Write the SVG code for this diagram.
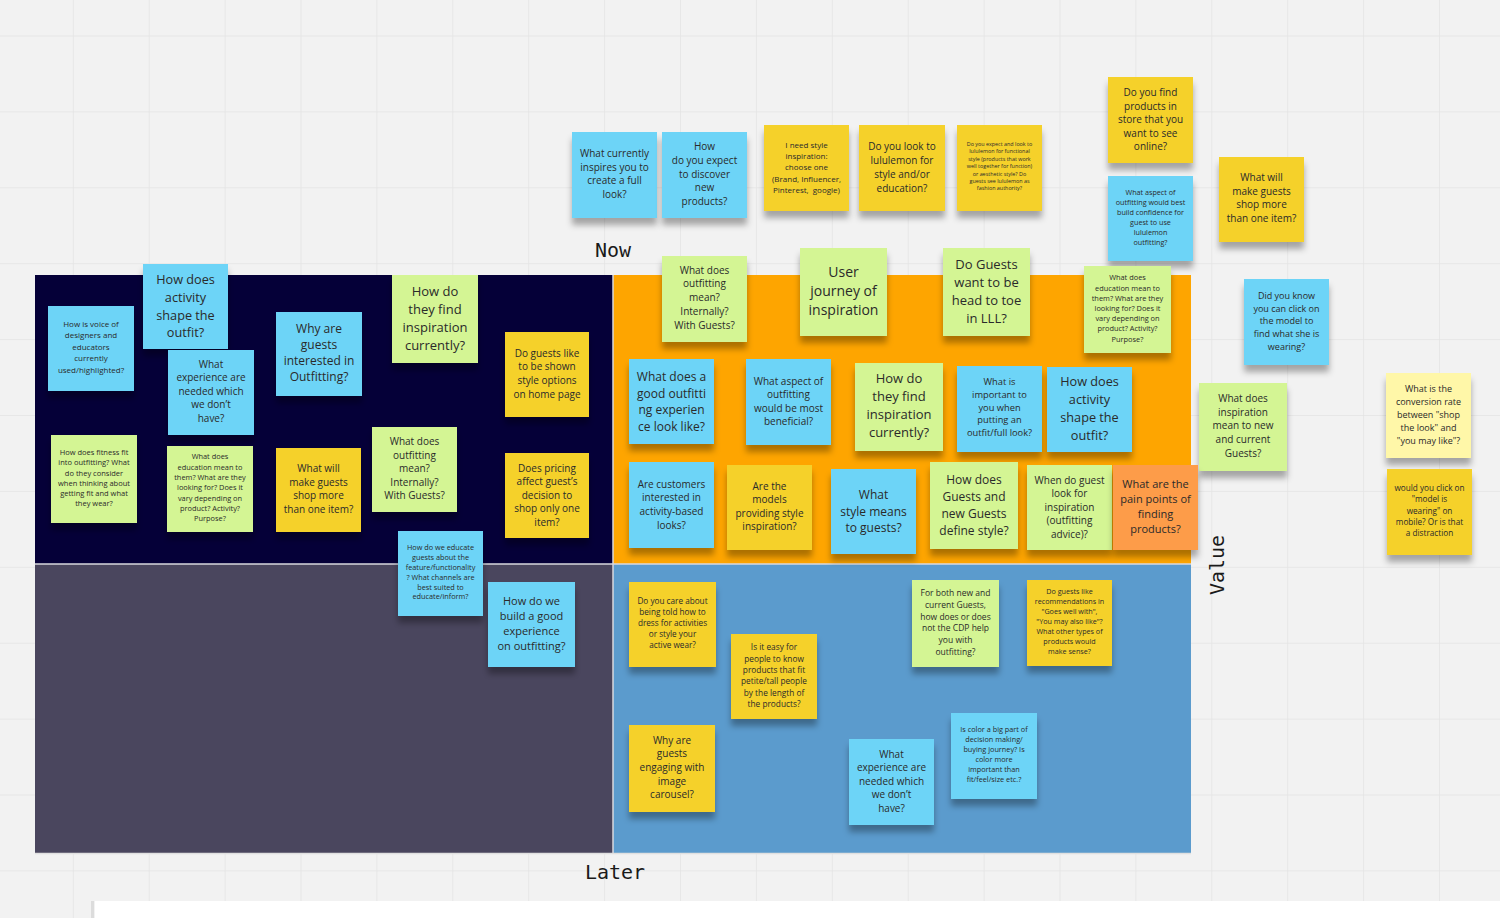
<svg xmlns="http://www.w3.org/2000/svg" width="1500" height="918" viewBox="0 0 1500 918">
<defs>
<pattern id="grid" x="72.8" y="35.5" width="75.9" height="75.9" patternUnits="userSpaceOnUse">
<path d="M0 0H75.9M0 0V75.9" fill="none" stroke="#e4e4e4" stroke-width="1.5"/>
</pattern>
<filter id="sh" x="-20%" y="-20%" width="140%" height="150%">
<feDropShadow dx="0" dy="7" stdDeviation="3" flood-color="#000" flood-opacity="0.32"/>
</filter>
</defs>
<style>
.note rect{filter:url(#sh)}
.b{fill:#6dd4f7}
.y{fill:#f5d12b}
.g{fill:#d4f594}
.o{fill:#fd9c4a}
.ly{fill:#fff7a8}
text.t{font-family:"Open Sans","Liberation Sans",sans-serif;fill:#2a2a2a;text-anchor:middle}
.lbl{font-family:"DejaVu Sans Mono","Liberation Mono",monospace;font-size:20px;fill:#1a1a1a;text-anchor:middle}
</style>
<rect width="1500" height="918" fill="#f2f2f2"/>
<rect width="1500" height="918" fill="url(#grid)"/>
<rect x="95" y="901" width="1405" height="17" fill="#ffffff"/>
<rect x="91" y="901" width="3" height="17" fill="#dcdcdc"/>

<g id="matrix">
<rect x="35" y="275" width="578" height="289" fill="#050038"/>
<rect x="613" y="275" width="578" height="289" fill="#fea500"/>
<rect x="35" y="564" width="578" height="289" fill="#4a465e"/>
<rect x="613" y="564" width="578" height="289" fill="#5b9bcd"/>
</g>
<g id="axes" stroke="#d8d8de" stroke-width="1.5" fill="none">
<path d="M35 564H1191"/>
<path d="M613 275V853"/>
<path d="M35 853.5H1191" stroke="#e0e0e0"/>
</g>
<text class="lbl" x="613" y="257">Now</text>
<text class="lbl" x="615" y="879">Later</text>
<text class="lbl" transform="translate(1224 565) rotate(-90)">Value</text>

<g id="n1" class="note"><rect class="b" x="572" y="132" width="85" height="86"/><text class="t" x="614.5" y="156.8" font-size="10"><tspan x="614.5" dy="0">What currently</tspan><tspan x="614.5" dy="13.7">inspires you to</tspan><tspan x="614.5" dy="13.7">create a full</tspan><tspan x="614.5" dy="13.7">look?</tspan></text></g>
<g id="n2" class="note"><rect class="b" x="662" y="132" width="85" height="86"/><text class="t" x="704.5" y="150.2" font-size="10"><tspan x="704.5" dy="0">How</tspan><tspan x="704.5" dy="13.7">do you expect</tspan><tspan x="704.5" dy="13.7">to discover</tspan><tspan x="704.5" dy="13.7">new</tspan><tspan x="704.5" dy="13.7">products?</tspan></text></g>
<g id="n3" class="note"><rect class="y" x="764" y="125" width="85" height="86"/><text class="t" x="806.5" y="147.8" font-size="8"><tspan x="806.5" dy="0">I need style</tspan><tspan x="806.5" dy="11.25">inspiration:</tspan><tspan x="806.5" dy="11.25">choose one</tspan><tspan x="806.5" dy="11.25">(Brand, Influencer,</tspan><tspan x="806.5" dy="11.25">Pinterest,&#160; google)</tspan></text></g>
<g id="n4" class="note"><rect class="y" x="859" y="125" width="86" height="86"/><text class="t" x="902" y="150.2" font-size="10"><tspan x="902" dy="0">Do you look to</tspan><tspan x="902" dy="13.9">lululemon for</tspan><tspan x="902" dy="13.9">style and/or</tspan><tspan x="902" dy="13.9">education?</tspan></text></g>
<g id="n5" class="note"><rect class="y" x="957" y="125" width="85" height="86"/><text class="t" x="999.5" y="145.9" font-size="5.4"><tspan x="999.5" dy="0">Do you expect and look to</tspan><tspan x="999.5" dy="7.4">lululemon for functional</tspan><tspan x="999.5" dy="7.4">style (products that work</tspan><tspan x="999.5" dy="7.4">well together for function)</tspan><tspan x="999.5" dy="7.4">or aesthetic style? Do</tspan><tspan x="999.5" dy="7.4">guests see lululemon as</tspan><tspan x="999.5" dy="7.4">fashion authority?</tspan></text></g>
<g id="n6" class="note"><rect class="y" x="1108" y="77" width="85" height="86"/><text class="t" x="1150.5" y="96.2" font-size="10"><tspan x="1150.5" dy="0">Do you find</tspan><tspan x="1150.5" dy="13.5">products in</tspan><tspan x="1150.5" dy="13.5">store that you</tspan><tspan x="1150.5" dy="13.5">want to see</tspan><tspan x="1150.5" dy="13.5">online?</tspan></text></g>
<g id="n7" class="note"><rect class="b" x="1108" y="176" width="85" height="85"/><text class="t" x="1150.5" y="195.2" font-size="7.2"><tspan x="1150.5" dy="0">What aspect of</tspan><tspan x="1150.5" dy="10">outfitting would best</tspan><tspan x="1150.5" dy="10">build confidence for</tspan><tspan x="1150.5" dy="10">guest to use</tspan><tspan x="1150.5" dy="10">lululemon</tspan><tspan x="1150.5" dy="10">outfitting?</tspan></text></g>
<g id="n8" class="note"><rect class="y" x="1219" y="157" width="85" height="85"/><text class="t" x="1261.5" y="181.2" font-size="10"><tspan x="1261.5" dy="0">What will</tspan><tspan x="1261.5" dy="13.6">make guests</tspan><tspan x="1261.5" dy="13.6">shop more</tspan><tspan x="1261.5" dy="13.6">than one item?</tspan></text></g>
<g id="n9" class="note"><rect class="b" x="1244" y="279" width="85" height="86"/><text class="t" x="1286.5" y="298.8" font-size="9"><tspan x="1286.5" dy="0">Did you know</tspan><tspan x="1286.5" dy="12.7">you can click on</tspan><tspan x="1286.5" dy="12.7">the model to</tspan><tspan x="1286.5" dy="12.7">find what she is</tspan><tspan x="1286.5" dy="12.7">wearing?</tspan></text></g>
<g id="n10" class="note"><rect class="g" x="1199" y="383" width="88" height="88"/><text class="t" x="1243" y="401.8" font-size="10"><tspan x="1243" dy="0">What does</tspan><tspan x="1243" dy="13.7">inspiration</tspan><tspan x="1243" dy="13.7">mean to new</tspan><tspan x="1243" dy="13.7">and current</tspan><tspan x="1243" dy="13.7">Guests?</tspan></text></g>
<g id="n11" class="note"><rect class="ly" x="1386" y="373" width="85" height="85"/><text class="t" x="1428.5" y="392.2" font-size="9"><tspan x="1428.5" dy="0">What is the</tspan><tspan x="1428.5" dy="12.9">conversion rate</tspan><tspan x="1428.5" dy="12.9">between "shop</tspan><tspan x="1428.5" dy="12.9">the look" and</tspan><tspan x="1428.5" dy="12.9">"you may like"?</tspan></text></g>
<g id="n12" class="note"><rect class="y" x="1387" y="469" width="85" height="86"/><text class="t" x="1429.5" y="491.2" font-size="8.2"><tspan x="1429.5" dy="0">would you click on</tspan><tspan x="1429.5" dy="11.25">"model is</tspan><tspan x="1429.5" dy="11.25">wearing" on</tspan><tspan x="1429.5" dy="11.25">mobile? Or is that</tspan><tspan x="1429.5" dy="11.25">a distraction</tspan></text></g>

<g id="n13" class="note"><rect class="b" x="48" y="306" width="86" height="85"/><text class="t" x="91" y="326.8" font-size="8"><tspan x="91" dy="0">How is voice of</tspan><tspan x="91" dy="11.5">designers and</tspan><tspan x="91" dy="11.5">educators</tspan><tspan x="91" dy="11.5">currently</tspan><tspan x="91" dy="11.5">used/highlighted?</tspan></text></g>
<g id="n14" class="note"><rect class="b" x="143" y="264" width="85" height="85"/><text class="t" x="185.5" y="284.4" font-size="12.7"><tspan x="185.5" dy="0">How does</tspan><tspan x="185.5" dy="17.6">activity</tspan><tspan x="185.5" dy="17.6">shape the</tspan><tspan x="185.5" dy="17.6">outfit?</tspan></text></g>
<g id="n15" class="note"><rect class="b" x="168" y="350" width="86" height="85"/><text class="t" x="211" y="367.8" font-size="10"><tspan x="211" dy="0">What</tspan><tspan x="211" dy="13.5">experience are</tspan><tspan x="211" dy="13.5">needed which</tspan><tspan x="211" dy="13.5">we don’t</tspan><tspan x="211" dy="13.5">have?</tspan></text></g>
<g id="n16" class="note"><rect class="b" x="276" y="312" width="86" height="84"/><text class="t" x="319" y="333.2" font-size="12"><tspan x="319" dy="0">Why are</tspan><tspan x="319" dy="16">guests</tspan><tspan x="319" dy="16">interested in</tspan><tspan x="319" dy="16">Outfitting?</tspan></text></g>
<g id="n17" class="note"><rect class="g" x="392" y="275" width="86" height="88"/><text class="t" x="435" y="296.2" font-size="13"><tspan x="435" dy="0">How do</tspan><tspan x="435" dy="18">they find</tspan><tspan x="435" dy="18">inspiration</tspan><tspan x="435" dy="18">currently?</tspan></text></g>
<g id="n18" class="note"><rect class="y" x="505" y="332" width="84" height="85"/><text class="t" x="547" y="356.8" font-size="10"><tspan x="547" dy="0">Do guests like</tspan><tspan x="547" dy="13.6">to be shown</tspan><tspan x="547" dy="13.6">style options</tspan><tspan x="547" dy="13.6">on home page</tspan></text></g>
<g id="n19" class="note"><rect class="g" x="51" y="435" width="86" height="88"/><text class="t" x="94" y="455.3" font-size="7.5"><tspan x="94" dy="0">How does fitness fit</tspan><tspan x="94" dy="10.1">into outfitting? What</tspan><tspan x="94" dy="10.1">do they consider</tspan><tspan x="94" dy="10.1">when thinking about</tspan><tspan x="94" dy="10.1">getting fit and what</tspan><tspan x="94" dy="10.1">they wear?</tspan></text></g>
<g id="n20" class="note"><rect class="g" x="167" y="446" width="86" height="86"/><text class="t" x="210" y="459.3" font-size="7.4"><tspan x="210" dy="0">What does</tspan><tspan x="210" dy="10.3">education mean to</tspan><tspan x="210" dy="10.3">them? What are they</tspan><tspan x="210" dy="10.3">looking for? Does it</tspan><tspan x="210" dy="10.3">vary depending on</tspan><tspan x="210" dy="10.3">product? Activity?</tspan><tspan x="210" dy="10.3">Purpose?</tspan></text></g>
<g id="n21" class="note"><rect class="y" x="276" y="448" width="85" height="84"/><text class="t" x="318.5" y="472.2" font-size="10"><tspan x="318.5" dy="0">What will</tspan><tspan x="318.5" dy="13.6">make guests</tspan><tspan x="318.5" dy="13.6">shop more</tspan><tspan x="318.5" dy="13.6">than one item?</tspan></text></g>
<g id="n22" class="note"><rect class="g" x="372" y="427" width="85" height="85"/><text class="t" x="414.5" y="445.2" font-size="10"><tspan x="414.5" dy="0">What does</tspan><tspan x="414.5" dy="13.5">outfitting</tspan><tspan x="414.5" dy="13.5">mean?</tspan><tspan x="414.5" dy="13.5">Internally?</tspan><tspan x="414.5" dy="13.5">With Guests?</tspan></text></g>
<g id="n23" class="note"><rect class="y" x="505" y="453" width="84" height="85"/><text class="t" x="547" y="471.8" font-size="10"><tspan x="547" dy="0">Does pricing</tspan><tspan x="547" dy="13.5">affect guest’s</tspan><tspan x="547" dy="13.5">decision to</tspan><tspan x="547" dy="13.5">shop only one</tspan><tspan x="547" dy="13.5">item?</tspan></text></g>
<g id="n24" class="note"><rect class="b" x="398" y="531" width="85" height="85"/><text class="t" x="440.5" y="549.9" font-size="7.3"><tspan x="440.5" dy="0">How do we educate</tspan><tspan x="440.5" dy="9.9">guests about the</tspan><tspan x="440.5" dy="9.9">feature/functionality</tspan><tspan x="440.5" dy="9.9">? What channels are</tspan><tspan x="440.5" dy="9.9">best suited to</tspan><tspan x="440.5" dy="9.9">educate/inform?</tspan></text></g>
<g id="n25" class="note"><rect class="b" x="488" y="582" width="87" height="85"/><text class="t" x="531.5" y="604.5" font-size="11"><tspan x="531.5" dy="0">How do we</tspan><tspan x="531.5" dy="15.1">build a good</tspan><tspan x="531.5" dy="15.1">experience</tspan><tspan x="531.5" dy="15.1">on outfitting?</tspan></text></g>

<g id="n26" class="note"><rect class="g" x="662" y="256" width="85" height="86"/><text class="t" x="704.5" y="273.5" font-size="10"><tspan x="704.5" dy="0">What does</tspan><tspan x="704.5" dy="13.8">outfitting</tspan><tspan x="704.5" dy="13.8">mean?</tspan><tspan x="704.5" dy="13.8">Internally?</tspan><tspan x="704.5" dy="13.8">With Guests?</tspan></text></g>
<g id="n27" class="note"><rect class="g" x="800" y="248" width="87" height="88"/><text class="t" x="843.5" y="277.2" font-size="14"><tspan x="843.5" dy="0">User</tspan><tspan x="843.5" dy="18.8">journey of</tspan><tspan x="843.5" dy="18.8">inspiration</tspan></text></g>
<g id="n28" class="note"><rect class="g" x="943" y="248" width="87" height="88"/><text class="t" x="986.5" y="268.9" font-size="13"><tspan x="986.5" dy="0">Do Guests</tspan><tspan x="986.5" dy="18">want to be</tspan><tspan x="986.5" dy="18">head to toe</tspan><tspan x="986.5" dy="18">in LLL?</tspan></text></g>
<g id="n29" class="note"><rect class="g" x="1084" y="266" width="87" height="87"/><text class="t" x="1127.5" y="280.3" font-size="7.4"><tspan x="1127.5" dy="0">What does</tspan><tspan x="1127.5" dy="10.2">education mean to</tspan><tspan x="1127.5" dy="10.2">them? What are they</tspan><tspan x="1127.5" dy="10.2">looking for? Does it</tspan><tspan x="1127.5" dy="10.2">vary depending on</tspan><tspan x="1127.5" dy="10.2">product? Activity?</tspan><tspan x="1127.5" dy="10.2">Purpose?</tspan></text></g>
<g id="n30" class="note"><rect class="b" x="629" y="359" width="85" height="85"/><text class="t" x="671.5" y="380.9" font-size="12"><tspan x="671.5" dy="0">What does a</tspan><tspan x="671.5" dy="16.7">good outfitti</tspan><tspan x="671.5" dy="16.7">ng experien</tspan><tspan x="671.5" dy="16.7">ce look like?</tspan></text></g>
<g id="n31" class="note"><rect class="b" x="746" y="359" width="85" height="86"/><text class="t" x="788.5" y="384.5" font-size="10"><tspan x="788.5" dy="0">What aspect of</tspan><tspan x="788.5" dy="13.6">outfitting</tspan><tspan x="788.5" dy="13.6">would be most</tspan><tspan x="788.5" dy="13.6">beneficial?</tspan></text></g>
<g id="n32" class="note"><rect class="g" x="855" y="363" width="88" height="88"/><text class="t" x="899" y="382.9" font-size="13"><tspan x="899" dy="0">How do</tspan><tspan x="899" dy="18">they find</tspan><tspan x="899" dy="18">inspiration</tspan><tspan x="899" dy="18">currently?</tspan></text></g>
<g id="n33" class="note"><rect class="b" x="957" y="366" width="85" height="86"/><text class="t" x="999.5" y="384.9" font-size="9.3"><tspan x="999.5" dy="0">What is</tspan><tspan x="999.5" dy="12.8">important to</tspan><tspan x="999.5" dy="12.8">you when</tspan><tspan x="999.5" dy="12.8">putting an</tspan><tspan x="999.5" dy="12.8">outfit/full look?</tspan></text></g>
<g id="n34" class="note"><rect class="b" x="1047" y="367" width="85" height="85"/><text class="t" x="1089.5" y="386.1" font-size="12.7"><tspan x="1089.5" dy="0">How does</tspan><tspan x="1089.5" dy="17.8">activity</tspan><tspan x="1089.5" dy="17.8">shape the</tspan><tspan x="1089.5" dy="17.8">outfit?</tspan></text></g>
<g id="n35" class="note"><rect class="b" x="629" y="462" width="85" height="86"/><text class="t" x="671.5" y="487.8" font-size="10"><tspan x="671.5" dy="0">Are customers</tspan><tspan x="671.5" dy="13.6">interested in</tspan><tspan x="671.5" dy="13.6">activity-based</tspan><tspan x="671.5" dy="13.6">looks?</tspan></text></g>
<g id="n36" class="note"><rect class="y" x="727" y="465" width="85" height="85"/><text class="t" x="769.5" y="489.5" font-size="10"><tspan x="769.5" dy="0">Are the</tspan><tspan x="769.5" dy="13.6">models</tspan><tspan x="769.5" dy="13.6">providing style</tspan><tspan x="769.5" dy="13.6">inspiration?</tspan></text></g>
<g id="n37" class="note"><rect class="b" x="831" y="469" width="85" height="85"/><text class="t" x="873.5" y="499.2" font-size="12"><tspan x="873.5" dy="0">What</tspan><tspan x="873.5" dy="16.3">style means</tspan><tspan x="873.5" dy="16.3">to guests?</tspan></text></g>
<g id="n38" class="note"><rect class="g" x="930" y="462" width="88" height="87"/><text class="t" x="974" y="484.2" font-size="12"><tspan x="974" dy="0">How does</tspan><tspan x="974" dy="17">Guests and</tspan><tspan x="974" dy="17">new Guests</tspan><tspan x="974" dy="17">define style?</tspan></text></g>
<g id="n39" class="note"><rect class="g" x="1027" y="465" width="85" height="85"/><text class="t" x="1069.5" y="483.5" font-size="10"><tspan x="1069.5" dy="0">When do guest</tspan><tspan x="1069.5" dy="13.5">look for</tspan><tspan x="1069.5" dy="13.5">inspiration</tspan><tspan x="1069.5" dy="13.5">(outfitting</tspan><tspan x="1069.5" dy="13.5">advice)?</tspan></text></g>
<g id="n40" class="note"><rect class="o" x="1113" y="465" width="85" height="85"/><text class="t" x="1155.5" y="488.2" font-size="11"><tspan x="1155.5" dy="0">What are the</tspan><tspan x="1155.5" dy="14.9">pain points of</tspan><tspan x="1155.5" dy="14.9">finding</tspan><tspan x="1155.5" dy="14.9">products?</tspan></text></g>

<g id="n41" class="note"><rect class="y" x="629" y="582" width="87" height="85"/><text class="t" x="672.5" y="603.6" font-size="8.2"><tspan x="672.5" dy="0">Do you care about</tspan><tspan x="672.5" dy="11.2">being told how to</tspan><tspan x="672.5" dy="11.2">dress for activities</tspan><tspan x="672.5" dy="11.2">or style your</tspan><tspan x="672.5" dy="11.2">active wear?</tspan></text></g>
<g id="n42" class="note"><rect class="y" x="731" y="634" width="86" height="85"/><text class="t" x="774" y="650.2" font-size="8.3"><tspan x="774" dy="0">Is it easy for</tspan><tspan x="774" dy="11.4">people to know</tspan><tspan x="774" dy="11.4">products that fit</tspan><tspan x="774" dy="11.4">petite/tall people</tspan><tspan x="774" dy="11.4">by the length of</tspan><tspan x="774" dy="11.4">the products?</tspan></text></g>
<g id="n43" class="note"><rect class="g" x="912" y="580" width="87" height="87"/><text class="t" x="955.5" y="596.3" font-size="8.5"><tspan x="955.5" dy="0">For both new and</tspan><tspan x="955.5" dy="11.7">current Guests,</tspan><tspan x="955.5" dy="11.7">how does or does</tspan><tspan x="955.5" dy="11.7">not the CDP help</tspan><tspan x="955.5" dy="11.7">you with</tspan><tspan x="955.5" dy="11.7">outfitting?</tspan></text></g>
<g id="n44" class="note"><rect class="y" x="1027" y="580" width="85" height="86"/><text class="t" x="1069.5" y="594.2" font-size="7.2"><tspan x="1069.5" dy="0">Do guests like</tspan><tspan x="1069.5" dy="10">recommendations in</tspan><tspan x="1069.5" dy="10">"Goes well with",</tspan><tspan x="1069.5" dy="10">"You may also like"?</tspan><tspan x="1069.5" dy="10">What other types of</tspan><tspan x="1069.5" dy="10">products would</tspan><tspan x="1069.5" dy="10">make sense?</tspan></text></g>
<g id="n45" class="note"><rect class="y" x="629" y="725" width="86" height="87"/><text class="t" x="672" y="743.5" font-size="10"><tspan x="672" dy="0">Why are</tspan><tspan x="672" dy="13.7">guests</tspan><tspan x="672" dy="13.7">engaging with</tspan><tspan x="672" dy="13.7">image</tspan><tspan x="672" dy="13.7">carousel?</tspan></text></g>
<g id="n46" class="note"><rect class="b" x="849" y="739" width="85" height="86"/><text class="t" x="891.5" y="757.5" font-size="10"><tspan x="891.5" dy="0">What</tspan><tspan x="891.5" dy="13.6">experience are</tspan><tspan x="891.5" dy="13.6">needed which</tspan><tspan x="891.5" dy="13.6">we don’t</tspan><tspan x="891.5" dy="13.6">have?</tspan></text></g>
<g id="n47" class="note"><rect class="b" x="951" y="713" width="86" height="86"/><text class="t" x="994" y="731.9" font-size="7.3"><tspan x="994" dy="0">Is color a big part of</tspan><tspan x="994" dy="10.1">decision making/</tspan><tspan x="994" dy="10.1">buying journey? Is</tspan><tspan x="994" dy="10.1">color more</tspan><tspan x="994" dy="10.1">important than</tspan><tspan x="994" dy="10.1">fit/feel/size etc.?</tspan></text></g>
</svg>
